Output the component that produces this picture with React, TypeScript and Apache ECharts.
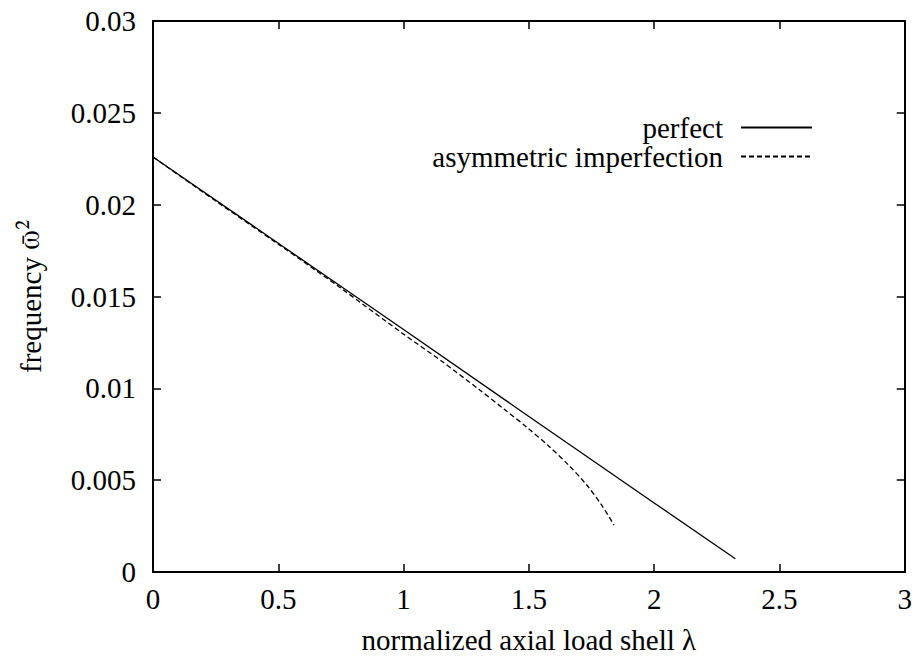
import React, { useEffect, useRef } from "react";
import * as echarts from "echarts";

// Data
const perfectLambda = [0, 0.5, 1.0, 1.5, 2.0, 2.324];
const perfectFreq = [0.0226, 0.0179, 0.0132, 0.00847, 0.00376, 0.00072];

const imperfLambda = [0, 0.25, 0.5, 0.75, 1.0, 1.15, 1.3, 1.4, 1.49, 1.58, 1.66, 1.73, 1.79, 1.84];
const imperfFreq = [0.0226, 0.0202, 0.01785, 0.01545, 0.01295, 0.0115, 0.00995, 0.00888, 0.0079, 0.00685, 0.0058, 0.00475, 0.00365, 0.00255];

const seriesNames = ["perfect", "asymmetric imperfection"];
const xTitle = "normalized axial load shell λ";
const yTitle = "frequency {w|ω̄²}";

const FONT = "Liberation Serif";
const FS = 29;

export default function App() {
  const ref = useRef<HTMLDivElement>(null);
  useEffect(() => {
    document.body.style.margin = "0";
    if (!ref.current) return;
    const chart = echarts.init(ref.current, null, { renderer: "svg" });
    const axisLine = { show: true, onZero: false, lineStyle: { color: "#000", width: 2 } };
    const axisTick = { show: true, inside: true, length: 8, lineStyle: { color: "#000", width: 1.5 } };
    const labelStyle = { color: "#000", fontFamily: FONT, fontSize: FS };
    chart.setOption({
      animation: false,
      backgroundColor: "#fff",
      grid: { left: 153, right: 10, top: 21, bottom: 83, containLabel: false },
      legend: {
        orient: "vertical",
        align: "right",
        right: 102,
        top: 113,
        padding: 0,
        itemGap: 0,
        itemWidth: 71,
        itemHeight: 14,
        data: seriesNames,
        itemStyle: { opacity: 0 },
        textStyle: { ...labelStyle, lineHeight: 27, padding: [0, 13, 0, 0] },
        selectedMode: false,
      },
      xAxis: [
        {
          type: "value",
          position: "bottom",
          min: 0,
          max: 3,
          interval: 0.5,
          axisLine,
          axisTick,
          splitLine: { show: false },
          axisLabel: { ...labelStyle, margin: 12 },
          name: xTitle,
          nameLocation: "middle",
          nameGap: 53,
          nameTextStyle: labelStyle,
        },
        {
          type: "value",
          position: "top",
          min: 0,
          max: 3,
          interval: 0.5,
          axisLine,
          axisTick,
          splitLine: { show: false },
          axisLabel: { show: false },
        },
      ],
      yAxis: [
        {
          type: "value",
          position: "left",
          min: 0,
          max: 0.03,
          interval: 0.005,
          axisLine,
          axisTick,
          splitLine: { show: false },
          axisLabel: { ...labelStyle, margin: 17 },
          name: yTitle,
          nameLocation: "middle",
          nameRotate: 90,
          nameGap: 108,
          nameTextStyle: {
            ...labelStyle,
            rich: { w: { fontFamily: "FreeSerif", fontSize: FS, color: "#000" } },
          },
        },
        {
          type: "value",
          position: "right",
          min: 0,
          max: 0.03,
          interval: 0.005,
          axisLine,
          axisTick,
          splitLine: { show: false },
          axisLabel: { show: false },
        },
      ],
      series: [
        {
          name: seriesNames[0],
          type: "line",
          xAxisIndex: 0,
          yAxisIndex: 0,
          symbol: "none",
          data: perfectLambda.map((x, i) => [x, perfectFreq[i]]),
          lineStyle: { color: "#000", width: 1.3 },
          itemStyle: { color: "#000" },
        },
        {
          name: seriesNames[1],
          type: "line",
          xAxisIndex: 0,
          yAxisIndex: 0,
          symbol: "none",
          smooth: 0.3,
          data: imperfLambda.map((x, i) => [x, imperfFreq[i]]),
          lineStyle: { color: "#000", width: 1.3, type: [5, 3] },
          itemStyle: { color: "#000" },
        },
      ],
    });
    return () => chart.dispose();
  }, []);
  return <div ref={ref} style={{ width: 915, height: 659 }} />;
}
